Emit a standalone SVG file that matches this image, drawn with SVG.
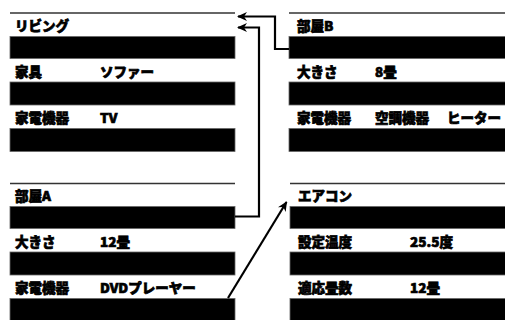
<svg xmlns="http://www.w3.org/2000/svg" width="505" height="320" viewBox="0 0 505 320">
<defs>
<style>
.top{stroke:#333;stroke-width:1.5}
.bar{fill:#000;stroke:#666;stroke-width:0.8}
.t{font-family:"Noto Sans CJK JP","Liberation Sans",sans-serif;font-weight:900;font-size:13.5px;fill:#000;stroke:#000;stroke-width:0.7;dominant-baseline:central}
.c{fill:none;stroke:#000;stroke-width:2.2}
</style>
<marker id="ah" viewBox="0 0 10 10" refX="9" refY="5" markerWidth="10" markerHeight="10" markerUnits="userSpaceOnUse" orient="auto">
<path d="M0,0.5 L10,5 L0,9.5 L3,5 Z" fill="#000"/>
</marker>
</defs>
<rect width="505" height="320" fill="#fff"/>

<g id="living">
<line class="top" x1="10" y1="13" x2="235" y2="13"/>
<text class="t" x="15" y="25">リビング</text>
<rect class="bar" x="10" y="36.5" width="225" height="22"/>
<text class="t" x="15" y="71">家具</text>
<text class="t" x="100" y="71">ソファー</text>
<rect class="bar" x="10" y="82" width="225" height="23"/>
<text class="t" x="15" y="117">家電機器</text>
<text class="t" x="100" y="117">TV</text>
<rect class="bar" x="10" y="128.5" width="225" height="23"/>
</g>

<g id="roomB">
<line class="top" x1="289" y1="13" x2="505" y2="13"/>
<text class="t" x="297" y="25">部屋B</text>
<rect class="bar" x="289" y="36.5" width="220" height="22"/>
<text class="t" x="297" y="71">大きさ</text>
<text class="t" x="375" y="71">8畳</text>
<rect class="bar" x="289" y="82" width="220" height="23"/>
<text class="t" x="297" y="117">家電機器</text>
<text class="t" x="375" y="117">空調機器</text>
<text class="t" x="447" y="117">ヒーター</text>
<rect class="bar" x="289" y="128.5" width="220" height="23"/>
</g>

<g id="roomA">
<line class="top" x1="10" y1="183.5" x2="235" y2="183.5"/>
<text class="t" x="15" y="195">部屋A</text>
<rect class="bar" x="10" y="206.5" width="225" height="22"/>
<text class="t" x="15" y="241">大きさ</text>
<text class="t" x="100" y="241">12畳</text>
<rect class="bar" x="10" y="252" width="225" height="23"/>
<text class="t" x="15" y="287">家電機器</text>
<text class="t" x="100" y="287">DVDプレーヤー</text>
<rect class="bar" x="10" y="298.5" width="225" height="25"/>
</g>

<g id="aircon">
<line class="top" x1="290" y1="183.5" x2="505" y2="183.5"/>
<text class="t" x="298" y="195">エアコン</text>
<rect class="bar" x="290" y="206.5" width="220" height="22"/>
<text class="t" x="298" y="241">設定温度</text>
<text class="t" x="410" y="241">25.5度</text>
<rect class="bar" x="290" y="252" width="220" height="23"/>
<text class="t" x="298" y="287">適応畳数</text>
<text class="t" x="410" y="287">12畳</text>
<rect class="bar" x="290" y="298.5" width="220" height="25"/>
</g>

<g id="connectors">
<polyline class="c" points="289,49 275,49 275,16.5 238,16.5" marker-end="url(#ah)"/>
<polyline class="c" points="235,216.5 259,216.5 259,27.5 238,27.5" marker-end="url(#ah)"/>
<line class="c" x1="228" y1="298" x2="286.5" y2="202" marker-end="url(#ah)"/>
</g>
</svg>
